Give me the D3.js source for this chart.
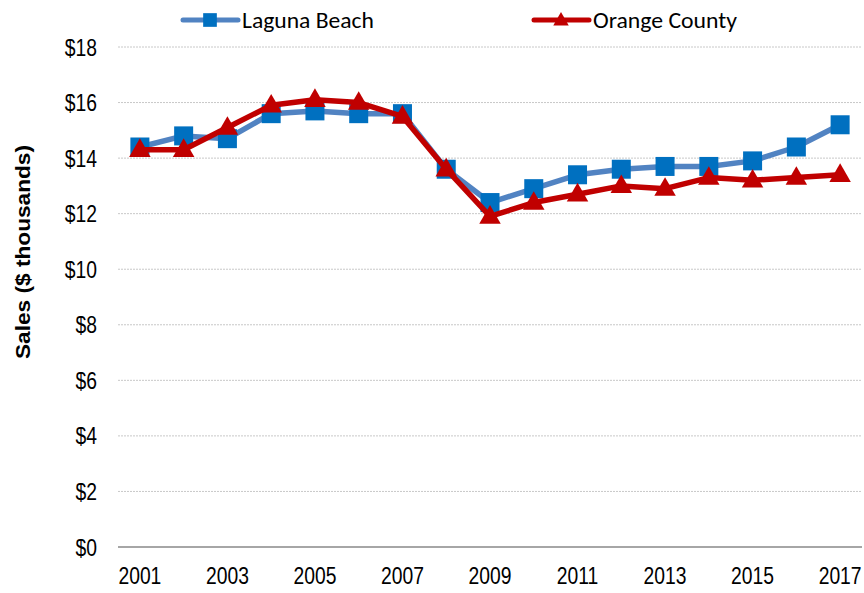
<!DOCTYPE html>
<html>
<head>
<meta charset="utf-8">
<script src="https://cdn.jsdelivr.net/npm/d3@7"></script>
<style>
  html, body { margin: 0; padding: 0; background: #fff; }
  svg { display: block; }
</style>
</head>
<body>
<svg id="chart" width="864" height="593"></svg>
<script>
// Per-resident sales, thousands of dollars
const years = [2001, 2002, 2003, 2004, 2005, 2006, 2007, 2008, 2009, 2010, 2011, 2012, 2013, 2014, 2015, 2016, 2017];
const lagunaBeach = [14.4, 14.8, 14.7, 15.6, 15.7, 15.6, 15.6, 13.6, 12.4, 12.9, 13.4, 13.6, 13.7, 13.7, 13.9, 14.4, 15.2];
const orangeCounty = [14.3, 14.3, 15.1, 15.9, 16.1, 16.0, 15.5, 13.6, 11.9, 12.4, 12.7, 13.0, 12.9, 13.3, 13.2, 13.3, 13.4];
const yTicks = [0, 2, 4, 6, 8, 10, 12, 14, 16, 18];
const xTickYears = [2001, 2003, 2005, 2007, 2009, 2011, 2013, 2015, 2017];

const seriesList = [
  { name: "Laguna Beach", values: lagunaBeach, line: "#5183c2", marker: "#0070c0", shape: "square", legendX: 183, textLen: 132 },
  { name: "Orange County", values: orangeCounty, line: "#c00000", marker: "#c00000", shape: "triangle", legendX: 534, textLen: 144 }
];

const svg = d3.select("#chart");
const margin = { left: 118, right: 2, top: 47, bottom: 46 };
const W = 864, H = 593;
const font = "'Liberation Sans', Arial, sans-serif";

const x = d3.scaleBand().domain(years).range([margin.left, W - margin.right]);
const y = d3.scaleLinear().domain([0, 18]).range([H - margin.bottom, margin.top]);
const cx = d => x(d) + x.bandwidth() / 2;

// Horizontal gridlines
svg.append("g")
  .selectAll("line")
  .data(yTicks.filter(t => t > 0))
  .join("line")
  .attr("x1", margin.left).attr("x2", W - margin.right)
  .attr("y1", d => y(d)).attr("y2", d => y(d))
  .attr("stroke", "#c8c8c8")
  .attr("stroke-width", 1)
  .attr("stroke-dasharray", "2,1");

// Baseline
svg.append("line")
  .attr("x1", margin.left).attr("x2", W - margin.right)
  .attr("y1", y(0)).attr("y2", y(0))
  .attr("stroke", "#a6a6a6").attr("stroke-width", 2);

// Tick labels: a narrow face, drawn tall and squeezed horizontally
function narrow(sel) {
  sel.attr("font-family", font).attr("font-size", 23).attr("fill", "#000")
    .attr("transform", "scale(0.84,1)");
}

const yAxis = d3.axisLeft(y).tickValues(yTicks).tickFormat(d => "$" + d).tickSize(0).tickPadding(0);
const gy = svg.append("g").attr("transform", `translate(97,0)`).call(yAxis);
gy.select(".domain").remove();
gy.selectAll("text").call(narrow).attr("dy", "0.35em");

const xAxis = d3.axisBottom(x).tickValues(xTickYears).tickFormat(d => String(d)).tickSize(0).tickPadding(0);
const gx = svg.append("g").attr("transform", `translate(0,${y(0) + 20})`).call(xAxis);
gx.select(".domain").remove();
gx.selectAll("text").call(narrow).attr("dy", "0.72em");

// Axis title
svg.append("text")
  .attr("transform", `translate(30,252) rotate(-90)`)
  .attr("text-anchor", "middle")
  .attr("font-family", font)
  .attr("font-weight", "bold")
  .attr("font-size", 21)
  .attr("textLength", 214)
  .attr("lengthAdjust", "spacingAndGlyphs")
  .text("Sales ($ thousands)");

const line = d3.line().x((d, i) => cx(years[i])).y(d => y(d));

function drawMarker(g, s, px, py, k) {
  if (s.shape === "square") {
    const h = 9.5 * k;
    g.append("rect").attr("x", px - h).attr("y", py - h).attr("width", 2 * h).attr("height", 2 * h).attr("fill", s.marker);
  } else {
    const tri = d3.symbol().type(d3.symbolTriangle).size(200 * k * k);
    g.append("path").attr("d", tri()).attr("transform", `translate(${px},${py + 1})`).attr("fill", s.marker);
  }
}

seriesList.forEach(s => {
  const g = svg.append("g");
  g.append("path")
    .attr("d", line(s.values))
    .attr("fill", "none")
    .attr("stroke", s.line)
    .attr("stroke-width", 5.5)
    .attr("stroke-linejoin", "round");
  s.values.forEach((v, i) => drawMarker(g, s, cx(years[i]), y(v), 1));
});

// Legend
seriesList.forEach(s => {
  const g = svg.append("g");
  const x0 = s.legendX, ly = 20;
  g.append("line").attr("x1", x0).attr("x2", x0 + 55).attr("y1", ly).attr("y2", ly)
    .attr("stroke", s.line).attr("stroke-width", 5).attr("stroke-linecap", "round");
  drawMarker(g, s, x0 + 27, ly, 0.72);
  g.append("text").attr("x", x0 + 59).attr("y", ly).attr("dy", "0.35em")
    .attr("font-family", "Carlito, 'Open Sans', sans-serif")
    .attr("font-size", 22)
    .attr("textLength", s.textLen)
    .attr("lengthAdjust", "spacingAndGlyphs")
    .text(s.name);
});
</script>
</body>
</html>
